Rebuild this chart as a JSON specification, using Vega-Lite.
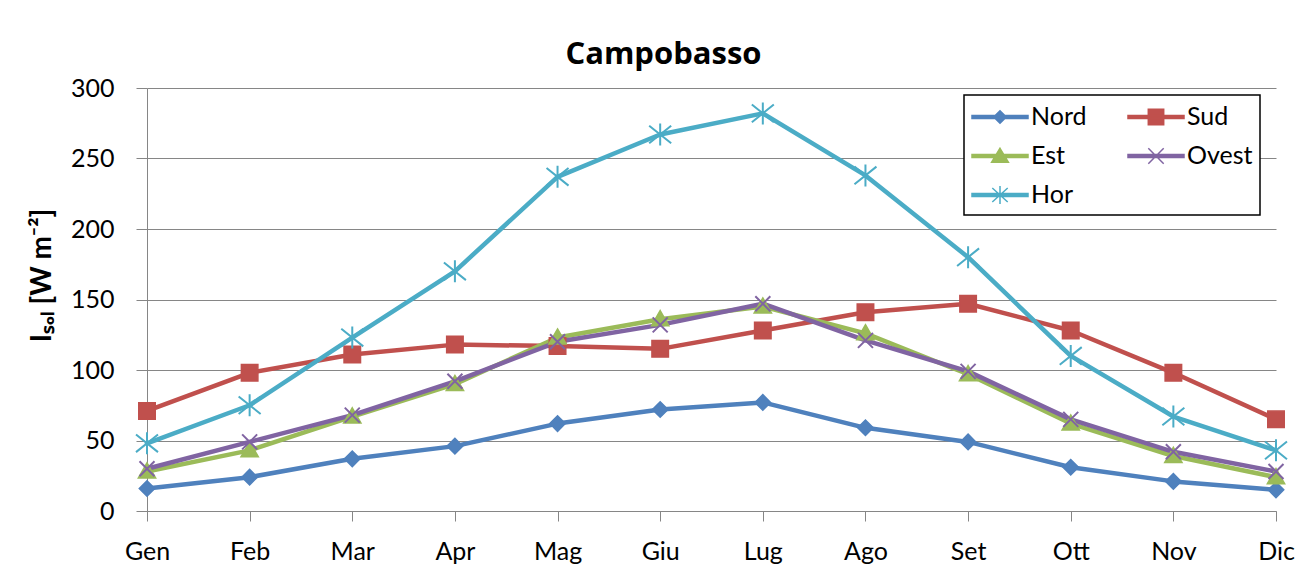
{
  "$schema": "https://vega.github.io/schema/vega-lite/v6.json",
  "width": 1129,
  "height": 423,
  "autosize": {"type": "none"},
  "padding": {"left": 147, "top": 88, "right": 38, "bottom": 72},
  "background": "white",
  "config": {"view": {"stroke": null}, "font": "Lato"},
  "title": {"text": "Campobasso", "font": "Open Sans", "fontSize": 31, "fontWeight": "bold", "color": "#000", "anchor": "middle", "dx": -48, "dy": 24, "offset": 5, "baseline": "alphabetic"},
  "data": {"values": [
    {"month": "Gen", "series": "Nord", "value": 16}, {"month": "Feb", "series": "Nord", "value": 24}, {"month": "Mar", "series": "Nord", "value": 37}, {"month": "Apr", "series": "Nord", "value": 46}, {"month": "Mag", "series": "Nord", "value": 62}, {"month": "Giu", "series": "Nord", "value": 72}, {"month": "Lug", "series": "Nord", "value": 77}, {"month": "Ago", "series": "Nord", "value": 59}, {"month": "Set", "series": "Nord", "value": 49}, {"month": "Ott", "series": "Nord", "value": 31}, {"month": "Nov", "series": "Nord", "value": 21}, {"month": "Dic", "series": "Nord", "value": 15},
    {"month": "Gen", "series": "Sud", "value": 71}, {"month": "Feb", "series": "Sud", "value": 98}, {"month": "Mar", "series": "Sud", "value": 111}, {"month": "Apr", "series": "Sud", "value": 118}, {"month": "Mag", "series": "Sud", "value": 117}, {"month": "Giu", "series": "Sud", "value": 115}, {"month": "Lug", "series": "Sud", "value": 128}, {"month": "Ago", "series": "Sud", "value": 141}, {"month": "Set", "series": "Sud", "value": 147}, {"month": "Ott", "series": "Sud", "value": 128}, {"month": "Nov", "series": "Sud", "value": 98}, {"month": "Dic", "series": "Sud", "value": 65},
    {"month": "Gen", "series": "Est", "value": 28}, {"month": "Feb", "series": "Est", "value": 43}, {"month": "Mar", "series": "Est", "value": 67}, {"month": "Apr", "series": "Est", "value": 90}, {"month": "Mag", "series": "Est", "value": 123}, {"month": "Giu", "series": "Est", "value": 136}, {"month": "Lug", "series": "Est", "value": 145}, {"month": "Ago", "series": "Est", "value": 126}, {"month": "Set", "series": "Est", "value": 97}, {"month": "Ott", "series": "Est", "value": 62}, {"month": "Nov", "series": "Est", "value": 39}, {"month": "Dic", "series": "Est", "value": 24},
    {"month": "Gen", "series": "Ovest", "value": 30}, {"month": "Feb", "series": "Ovest", "value": 49}, {"month": "Mar", "series": "Ovest", "value": 68}, {"month": "Apr", "series": "Ovest", "value": 92}, {"month": "Mag", "series": "Ovest", "value": 120}, {"month": "Giu", "series": "Ovest", "value": 132}, {"month": "Lug", "series": "Ovest", "value": 147}, {"month": "Ago", "series": "Ovest", "value": 121}, {"month": "Set", "series": "Ovest", "value": 99}, {"month": "Ott", "series": "Ovest", "value": 65}, {"month": "Nov", "series": "Ovest", "value": 42}, {"month": "Dic", "series": "Ovest", "value": 28},
    {"month": "Gen", "series": "Hor", "value": 48}, {"month": "Feb", "series": "Hor", "value": 75}, {"month": "Mar", "series": "Hor", "value": 123}, {"month": "Apr", "series": "Hor", "value": 170}, {"month": "Mag", "series": "Hor", "value": 237}, {"month": "Giu", "series": "Hor", "value": 267}, {"month": "Lug", "series": "Hor", "value": 282}, {"month": "Ago", "series": "Hor", "value": 238}, {"month": "Set", "series": "Hor", "value": 180}, {"month": "Ott", "series": "Hor", "value": 110}, {"month": "Nov", "series": "Hor", "value": 67}, {"month": "Dic", "series": "Hor", "value": 43}
  ]},
  "encoding": {
    "x": {"field": "month", "type": "ordinal", "sort": ["Gen","Feb","Mar","Apr","Mag","Giu","Lug","Ago","Set","Ott","Nov","Dic"],
      "scale": {"type": "point", "padding": 0},
      "axis": {"title": null, "labelAngle": 0, "labelFont": "Lato", "labelFontSize": 25, "labelColor": "#000", "labelPadding": 18, "tickSize": 10, "tickColor": "#868686", "domainColor": "#868686", "grid": false}},
    "y": {"field": "value", "type": "quantitative", "scale": {"domain": [0, 300], "nice": false},
      "axis": {"values": [0,50,100,150,200,250,300], "title": "Iₛₒₗ [W m⁻²]", "titleFont": "Lato", "titleFontSize": 28, "titleFontWeight": "bold", "titleColor": "#000", "titleX": -105, "titleY": 187, "titleAngle": 270, "titleAlign": "center", "titleBaseline": "middle",
        "labelFont": "Lato", "labelFontSize": 25, "labelColor": "#000", "labelPadding": 22, "tickSize": 11, "tickColor": "#868686", "domainColor": "#868686", "grid": true, "gridColor": "#868686", "gridWidth": 1}}
  },
  "layer": [
    {
      "mark": {"type": "line", "strokeWidth": 4.5, "strokeCap": "round", "strokeJoin": "round"},
      "encoding": {
        "color": {"field": "series", "type": "nominal",
          "scale": {"domain": ["Nord","Sud","Est","Ovest","Hor"], "range": ["#4F81BD","#C0504D","#9BBB59","#8064A2","#4BACC6"]},
          "legend": {"title": null, "orient": "none", "legendX": 817, "legendY": 7, "direction": "horizontal", "columns": 2, "columnPadding": 38, "rowPadding": 11, "padding": 7,
            "strokeColor": "#000", "fillColor": "#fff", "labelFont": "Lato", "labelFontSize": 25, "labelColor": "#000", "labelOffset": 30, "symbolSize": 784,
            "encode": {
              "legend": {"update": {"strokeWidth": {"value": 1.5}}},
              "symbols": {"update": {
                "shape": {"signal": "datum.value==='Nord'?'M-1,-0.1L3,-0.1L3,0.1L-1,0.1ZM0.55,0L1,-0.45L1.45,0L1,0.45Z':datum.value==='Sud'?'M-1,-0.1L3,-0.1L3,0.1L-1,0.1ZM0.45,-0.55L1.55,-0.55L1.55,0.55L0.45,0.55Z':datum.value==='Est'?'M-1,-0.1L3,-0.1L3,0.1L-1,0.1ZM1,-0.55L1.6,0.45L0.4,0.45Z':datum.value==='Ovest'?'M-1,-0.1L3,-0.1L3,0.1L-1,0.1ZM0.45,-0.55L1.55,0.55M0.45,0.55L1.55,-0.55':'M-1,-0.1L3,-0.1L3,0.1L-1,0.1ZM0.45,-0.5L1.55,0.5M0.45,0.5L1.55,-0.5M1,-0.65L1,0.65'"},
                "fill": {"scale": "color", "field": "value"},
                "stroke": {"scale": "color", "field": "value"},
                "strokeWidth": {"value": 1.5},
                "opacity": {"value": 1}
              }}
            }}
        }
      }
    },
    {"transform": [{"filter": "datum.series === 'Nord'"}], "mark": {"type": "point", "shape": "M-1,0L0,-1L1,0L0,1Z", "size": 240, "filled": true, "fill": "#4F81BD", "stroke": "#4F81BD", "strokeWidth": 1.5, "opacity": 1}},
    {"transform": [{"filter": "datum.series === 'Sud'"}], "mark": {"type": "point", "shape": "M-1,-1L1,-1L1,1L-1,1Z", "size": 272, "filled": true, "fill": "#C0504D", "stroke": "#C0504D", "strokeWidth": 1.5, "opacity": 1}},
    {"transform": [{"filter": "datum.series === 'Est'"}], "mark": {"type": "point", "shape": "M0,-1L1,0.75L-1,0.75Z", "size": 300, "filled": true, "fill": "#9BBB59", "stroke": "#9BBB59", "strokeWidth": 1.5, "opacity": 1}},
    {"transform": [{"filter": "datum.series === 'Ovest'"}], "mark": {"type": "point", "shape": "M-1,-1L1,1M-1,1L1,-1", "size": 225, "filled": false, "stroke": "#8064A2", "strokeWidth": 2, "opacity": 1}},
    {"transform": [{"filter": "datum.series === 'Hor'"}], "mark": {"type": "point", "shape": "M-1,-0.8L1,0.8M-1,0.8L1,-0.8M0,-1L0,1", "size": 484, "filled": false, "stroke": "#4BACC6", "strokeWidth": 2, "opacity": 1}}
  ]
}
